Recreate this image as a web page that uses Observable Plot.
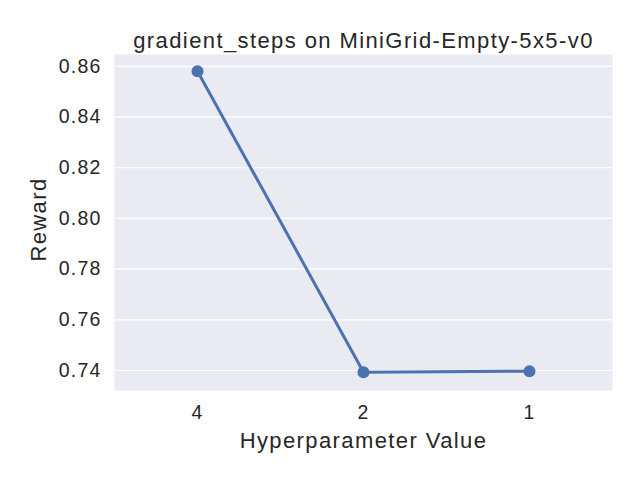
<!DOCTYPE html>
<html>
<head>
<meta charset="utf-8">
<script src="https://cdn.jsdelivr.net/npm/d3@7"></script>
<script src="https://cdn.jsdelivr.net/npm/@observablehq/plot@0.6"></script>
<style>
  html, body { margin: 0; padding: 0; background: #fff; }
  svg { display: block; }
  .tk text { letter-spacing: 1.2px; }
  .lbl text { letter-spacing: 1.4px; }
</style>
</head>
<body>
<div id="chart"></div>
<script>
const categories = ["4", "2", "1"];
const rewards = [0.8581, 0.7393, 0.7397];
const yTicks = [0.74, 0.76, 0.78, 0.80, 0.82, 0.84, 0.86];
const titleText = "gradient_steps on MiniGrid-Empty-5x5-v0";
const xLabel = "Hyperparameter Value";
const yLabel = "Reward";

const data = categories.map((c, i) => ({cat: c, reward: rewards[i]}));

const chart = Plot.plot({
  width: 640,
  height: 480,
  marginLeft: 114,
  marginRight: 28,
  marginTop: 54,
  marginBottom: 90,
  style: {fontFamily: "'Liberation Sans', Arial, sans-serif", color: "#262626", background: "#fff"},
  x: {type: "point", domain: categories, padding: 0.5},
  y: {domain: [0.7321, 0.8647]},
  marks: [
    Plot.frame({fill: "#EAEAF2", stroke: null}),
    Plot.gridY(yTicks, {stroke: "#fff", strokeOpacity: 1, strokeWidth: 1.2}),
    Plot.axisY(yTicks, {tickSize: 0, tickPadding: 13, fontSize: 19.5, tickFormat: d3.format(".2f"), label: null, className: "tk"}),
    Plot.axisX({tickSize: 0, tickPadding: 15, fontSize: 19.5, label: null, className: "tk"}),
    Plot.text([yLabel], {frameAnchor: "left", textAnchor: "middle", lineAnchor: "middle", dx: -75.5, dy: -3, rotate: -90, fontSize: 22, fill: "#262626", className: "lbl"}),
    Plot.text([xLabel], {frameAnchor: "bottom", lineAnchor: "middle", dy: 50.3, fontSize: 22, fill: "#262626", className: "lbl"}),
    Plot.text([titleText], {frameAnchor: "top", lineAnchor: "middle", dy: -13.7, fontSize: 22, fill: "#262626", className: "lbl"}),
    Plot.line(data, {x: "cat", y: "reward", stroke: "#4C72B0", strokeWidth: 3}),
    Plot.dot(data, {x: "cat", y: "reward", fill: "#4C72B0", r: 6})
  ]
});
document.getElementById("chart").appendChild(chart);
</script>
</body>
</html>
